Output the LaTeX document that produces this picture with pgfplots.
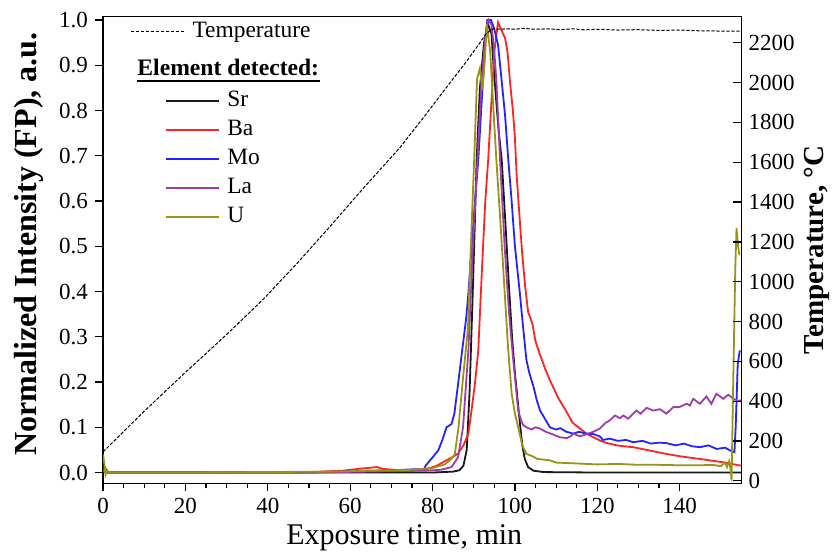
\documentclass[border=0pt]{standalone}
\usepackage{fontspec}
\setmainfont{Liberation Serif}
\usepackage{pgfplots}
\pgfplotsset{compat=1.18}

\definecolor{cSr}{RGB}{25,25,25}
\definecolor{cBa}{RGB}{255,35,35}
\definecolor{cMo}{RGB}{35,35,255}
\definecolor{cLa}{RGB}{160,60,170}
\definecolor{cU}{RGB}{150,150,20}

\pgfplotsset{
  common/.style={
    scale only axis, width=319pt, height=233.2pt,
    xmin=0, xmax=155,
    /pgf/number format/assume math mode=true,
    ticklabel style={font=\fontsize{11.5}{12}\selectfont},
    axis line style={line width=0.7pt},
    every tick/.style={black, line width=0.6pt},
    major tick length=4pt, minor tick length=2.5pt,
    legend image code/.code={\draw[##1] (0pt,0pt) -- (26.5pt,0pt);},
  },
}

\begin{document}
\begin{tikzpicture}
\begin{axis}[common, name=a1,
  ymin=-0.024, ymax=1.0073,
  xtick={0,20,40,60,80,100,120,140}, minor x tick num=3,
  ytick={0,0.1,0.2,0.3,0.4,0.5,0.6,0.7,0.8,0.9,1.0},
  yticklabel style={/pgf/number format/.cd, fixed, fixed zerofill, precision=1},
  xtick pos=bottom, ytick pos=left, tick align=outside,
  xlabel={Exposure time, min},
  ylabel={Normalized Intensity (FP), a.u.},
  xlabel style={font=\fontsize{15}{16}\selectfont, xshift=-9pt, yshift=1.5pt},
  ylabel style={font=\bfseries\fontsize{16}{17}\selectfont, xshift=3pt, yshift=1pt},
  legend style={at={(rel axis cs:0.0972,0.852)}, anchor=north west,
    draw=none, fill=none, inner sep=0pt, row sep=0pt,
    font=\fontsize{11.7}{13}\selectfont,
    nodes={text height=8pt, text depth=2.5pt, inner sep=2pt},
    /tikz/every odd column/.style={column sep=1.5pt}},
  legend cell align=left,
]
% Sr
\addplot[cSr, line width=0.9pt] coordinates {
(0,0.003) (1,0.0) (10,0.0) (50,0.0) (80,0.0) (85,0.002) (86.5,0.005) (87.5,0.015)
(88.3,0.05) (89,0.18) (89.7,0.38) (90.3,0.56) (90.7,0.69) (91.5,0.85) (92.5,0.95)
(93.5,0.99) (94.3,0.97) (94.8,0.9) (95.3,0.84) (96,0.76) (96.8,0.69) (97.7,0.55)
(98.5,0.42) (99.3,0.30) (100,0.22) (100.5,0.175) (101.2,0.11) (101.8,0.06)
(102.4,0.03) (103.2,0.012) (104.5,0.004) (107,0.001) (120,0.0) (155,0.0)
};
\addlegendentry{Sr}
% Ba
\addplot[cBa, line width=0.9pt] coordinates {
(0,0.004) (0.5,0.01) (1,0.0) (20,0.0) (50,0.001) (58,0.004) (63,0.009) (66.5,0.012)
(68,0.008) (72,0.005) (78,0.006) (81,0.015) (83.4,0.027) (85,0.035) (86.2,0.042)
(87.5,0.06) (88.7,0.086) (89.5,0.14) (90.3,0.197) (91.1,0.27) (92,0.45) (92.8,0.6)
(93.5,0.69) (94.3,0.82) (95,0.93) (95.9,0.995) (96.6,0.98) (97.6,0.96) (98.2,0.93)
(98.8,0.864) (99.5,0.8) (100,0.74) (100.4,0.66) (101,0.58) (101.8,0.48) (102.5,0.41)
(103.2,0.355) (104.2,0.33) (105,0.29) (106.1,0.26) (107.3,0.23) (108.5,0.204)
(110.5,0.165) (112.5,0.135) (114,0.11) (115.7,0.098) (117.5,0.085) (120.6,0.071)
(122,0.066) (124.7,0.06) (126.5,0.058) (128.7,0.056) (132,0.05) (136.8,0.041)
(140,0.036) (144.9,0.030) (148,0.026) (151,0.022) (153.8,0.017) (155,0.015)
};
\addlegendentry{Ba}
% Mo
\addplot[cMo, line width=0.9pt] coordinates {
(0,0.005) (0.4,0.012) (1,0.0) (20,0.0) (50,0.0) (60,0.002) (66,0.004) (70,0.005)
(75,0.007) (78,0.008) (78.3,0.015) (79.5,0.028) (81.4,0.049) (82.5,0.075) (83.4,0.10)
(84.6,0.107) (85.3,0.13) (86.2,0.196) (87.2,0.27) (88.2,0.344) (88.7,0.396) (89.5,0.5)
(90.3,0.6) (91.1,0.69) (92,0.83) (92.8,0.95) (93.3,1.0) (94.2,1.0) (95.0,0.98)
(95.9,0.945) (96.8,0.864) (97.6,0.79) (98.4,0.69) (99.2,0.6) (100,0.5) (101.2,0.396)
(102,0.32) (102.8,0.248) (103.5,0.22) (104.5,0.19) (105.3,0.16) (106.1,0.137)
(107.2,0.12) (108.5,0.10) (110,0.095) (111,0.098) (112.5,0.09) (114.2,0.086)
(115.5,0.09) (117.4,0.086) (119,0.085) (120.6,0.08) (121.4,0.072) (123,0.075)
(125,0.07) (127,0.072) (128.7,0.067) (131,0.07) (133,0.064) (135,0.066) (136.8,0.065)
(139,0.06) (141,0.064) (143,0.058) (144.9,0.056) (147,0.06) (149,0.052) (151,0.055)
(152.2,0.049) (153.3,0.045) (153.6,0.1) (154.1,0.24) (154.6,0.27)
};
\addlegendentry{Mo}
% La
\addplot[cLa, line width=0.9pt] coordinates {
(0,0.003) (1,0.0) (50,0.0) (70,0.003) (78,0.004) (82,0.006) (84.6,0.012) (86.2,0.034)
(87.4,0.10) (88.7,0.27) (89.8,0.5) (90.9,0.69) (92,0.88) (93,0.98) (93.6,1.0)
(94.3,0.99) (95.0,0.93) (95.5,0.864) (96.4,0.69) (97.5,0.5) (98.6,0.35) (99.6,0.248)
(100.8,0.137) (101.5,0.115) (102,0.105) (102.8,0.10) (104,0.095) (105,0.1)
(106.1,0.097) (107.5,0.09) (109,0.085) (110.9,0.078) (112.5,0.076) (113.5,0.08)
(114.2,0.086) (115.8,0.08) (117.4,0.085) (119,0.09) (120.6,0.097) (122,0.11)
(123,0.115) (124.3,0.126) (125.5,0.12) (126.3,0.126) (127.5,0.119) (129.5,0.137)
(130.5,0.13) (132,0.143) (133.6,0.137) (135.2,0.14) (136.8,0.13) (138.5,0.145)
(140,0.145) (141.7,0.152) (142.5,0.148) (143.3,0.163) (144.9,0.152) (146.5,0.168)
(147.7,0.152) (148.9,0.174) (150.6,0.163) (151.8,0.172) (153,0.163) (154.2,0.158)
(155,0.16)
};
\addlegendentry{La}
% U
\addplot[cU, line width=0.9pt] coordinates {
(0,0.04) (0.3,0.02) (0.6,-0.005) (1,0.005) (1.5,0.0) (20,0.0) (55,0.002) (65,0.004)
(75,0.006) (80,0.01) (83,0.018) (84.5,0.03) (85.4,0.04) (86.3,0.1) (87.3,0.2)
(88.6,0.32) (89.3,0.5) (90.1,0.69) (90.8,0.87) (91.5,0.893) (92.1,0.845) (92.6,0.9)
(93.2,0.99) (94,0.93) (94.8,0.8) (95.5,0.69) (96.5,0.55) (97.5,0.4) (98.3,0.28)
(99.2,0.175) (100,0.13) (100.8,0.1) (101.8,0.06) (102.8,0.041) (104,0.037)
(105.5,0.03) (108.5,0.027) (110,0.022) (115,0.02) (120,0.018) (125,0.019) (130,0.017)
(135,0.017) (140,0.016) (145,0.016) (148,0.017) (150,0.014) (151,0.022) (151.5,0.012)
(152,0.025) (152.4,0.005) (152.6,-0.018) (153,0.2) (153.5,0.45) (153.8,0.54)
(154.2,0.5) (154.5,0.48)
};
\addlegendentry{U}
\end{axis}

\begin{axis}[common,
  ymin=-12.6, ymax=2331,
  axis x line=none, axis y line*=right,
  ytick={0,200,400,600,800,1000,1200,1400,1600,1800,2000,2200},
  yticklabel style={/pgf/number format/.cd, fixed, set thousands separator={}},
  tick align=inside,
  ylabel={Temperature, °C},
  ylabel style={font=\bfseries\fontsize{14.5}{16}\selectfont, yshift=2pt},
  legend style={at={(rel axis cs:0.0423,1.0)}, anchor=north west,
    draw=none, fill=none, inner sep=0pt,
    font=\fontsize{11.7}{13}\selectfont,
    nodes={text height=8pt, text depth=2.5pt, inner sep=2pt},
    /tikz/every odd column/.style={column sep=2pt}},
]
\addplot[black, line width=0.5pt, dash pattern=on 1.7pt off 0.8pt] coordinates {
(0,145) (0.5,156) (10,350) (20,545) (30,735) (38.8,910) (47,1090) (55,1275)
(63,1465) (72,1672) (78,1830) (84.2,1998) (88,2100) (91.5,2200) (93,2245) (94,2262)
(95,2272) (96,2268) (98,2270) (100,2268) (102,2272) (105,2268) (108,2270) (111,2266)
(114,2270) (117,2265) (120,2268) (125,2264) (130,2266) (135,2262) (140,2264)
(145,2260) (150,2259) (155,2258)
};
\addlegendentry{Temperature}
\end{axis}

\node[anchor=base west, inner sep=0pt, font=\bfseries\fontsize{11.8}{13}\selectfont]
  (hdr) at ([xshift=17pt,yshift=-29.5pt]a1.north west) {Element detected:};
\draw[line width=0.9pt] ([yshift=-2.8pt]hdr.base west) -- ([yshift=-2.8pt]hdr.base east);

\pgfresetboundingbox
\path ([xshift=-51.5pt,yshift=-34pt]a1.south west) rectangle ([xshift=49.25pt,yshift=8.35pt]a1.north east);
\end{tikzpicture}
\end{document}
